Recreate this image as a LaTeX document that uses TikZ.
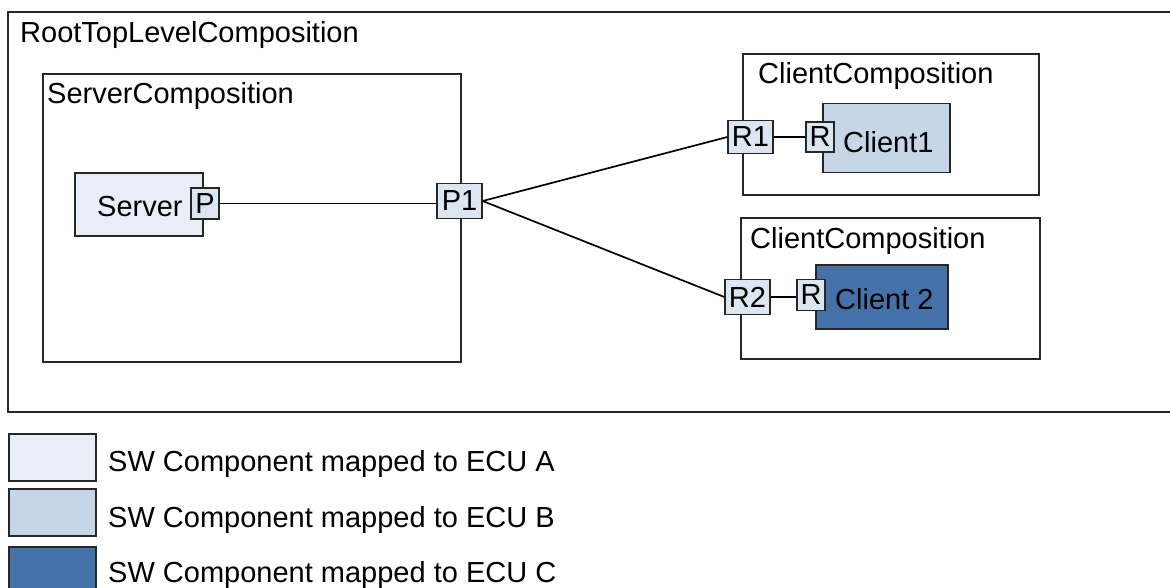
\documentclass[tikz,border=0pt]{standalone}
\usepackage{fontspec}
\setmainfont{Liberation Sans}
\definecolor{ecuA}{HTML}{E8EEF7}
\definecolor{ecuB}{HTML}{C6D6E8}
\definecolor{ecuC}{HTML}{4472A8}
\definecolor{portc}{HTML}{DCE6F1}
\begin{document}
\begin{tikzpicture}[x=1pt,y=-1pt,
  font=\fontsize{29}{34}\selectfont,
  box/.style={draw=black!85, line width=1.5pt, inner sep=0pt, rectangle},
  comp/.style={box, fill=white},
  port/.style={box, fill=portc, line width=1.3pt},
  lbl/.style={anchor=base west, inner sep=0pt},
  wire/.style={draw=black, line width=1.7pt}]
\useasboundingbox (0,0) rectangle (1170,587);
% root composition (right edge lies outside the picture)
\draw[draw=black!85, line width=1.7pt] (1172,12) -- (8,12) -- (8,412) -- (1172,412);
\node[lbl] (rootlbl) at (20,42) {RootTopLevelComposition};
% server composition
\node[comp, minimum width=418, minimum height=288] (sc) at (252,218) {};
\node[lbl] (sclbl) at (47,103) {ServerComposition};
\node[box, fill=ecuA, minimum width=128, minimum height=63] (server) at (139,204.5) {};
\node[lbl] (servertxt) at (97,216) {Server};
\node[port, minimum width=28, minimum height=31] (p) at (205,203.5) {P};
\node[port, minimum width=45, minimum height=35] (p1) at (459.5,201) {P1};
% client compositions
\node[comp, minimum width=296, minimum height=141] (cc1) at (891,124.5) {};
\node[lbl] (cc1lbl) at (758,83) {ClientComposition};
\node[comp, minimum width=299, minimum height=141] (cc2) at (890.5,288.5) {};
\node[lbl] (cc2lbl) at (750,248) {ClientComposition};
% client 1
\node[box, fill=ecuB, minimum width=127, minimum height=69] (c1) at (886.5,138) {};
\node[lbl] (c1txt) at (843,152) {Client1};
\node[port, minimum width=28, minimum height=30] (r1p) at (820,137) {R};
\node[port, minimum width=45, minimum height=33] (r1) at (750.5,137) {R1};
% client 2
\node[box, fill=ecuC, minimum width=132, minimum height=64] (c2) at (882,297) {};
\node[lbl] (c2txt) at (835,309) {Client 2};
\node[port, minimum width=28, minimum height=31] (r2p) at (811,295) {R};
\node[port, minimum width=45, minimum height=35] (r2) at (747.5,297) {R2};
% connectors
\draw[wire] (p.east) -- (p.east -| p1.west);
\draw[wire] (p1.east) -- (r1.west);
\draw[wire] (p1.east) -- (r2.west);
\draw[wire] (r1.east) -- (r1.east -| r1p.west);
\draw[wire] (r2.east) -- (r2.east -| r2p.west);
% legend
\node[box, fill=ecuA, minimum width=87, minimum height=47, anchor=north west] (la) at (8,433) {};
\node[box, fill=ecuB, minimum width=87, minimum height=47, anchor=north west] (lb) at (8,488) {};
\node[box, fill=ecuC, minimum width=87, minimum height=47, anchor=north west] (lc) at (8,546) {};
\node[lbl] (lat) at (108,471) {SW Component mapped to ECU A};
\node[lbl] (lbt) at (108,527) {SW Component mapped to ECU B};
\node[lbl] (lct) at (108,582) {SW Component mapped to ECU C};
\end{tikzpicture}
\end{document}
